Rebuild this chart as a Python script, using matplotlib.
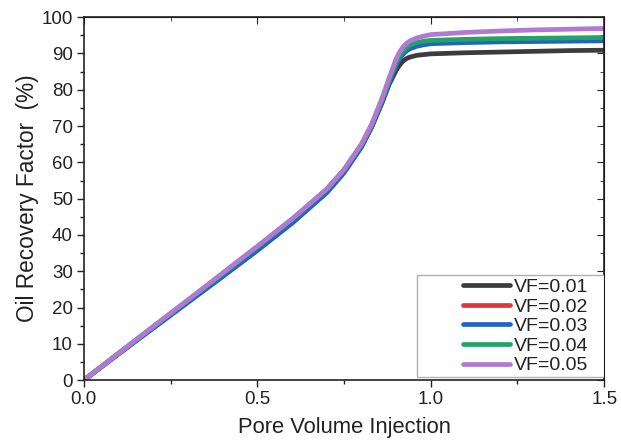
import matplotlib
matplotlib.use("Agg")
import matplotlib.pyplot as plt
from matplotlib.ticker import MultipleLocator, FormatStrFormatter
from matplotlib.patches import Rectangle

plt.rcParams['font.family'] = ['Liberation Sans', 'DejaVu Sans']

pvi = [0.0, 0.1, 0.2, 0.3, 0.4, 0.5, 0.6, 0.7, 0.75, 0.8, 0.83, 0.86, 0.88, 0.9,
       0.91, 0.92, 0.93, 0.94, 0.96, 0.98, 1.0, 1.1, 1.2, 1.3, 1.4, 1.5]

rf_vf001 = [0, 7.3, 14.6, 21.8, 29.0, 36.3, 43.8, 52.0, 57.5, 64.3, 69.8, 76.5, 81.5, 85.3,
            86.8, 87.9, 88.6, 89.0, 89.5, 89.7, 89.9, 90.2, 90.4, 90.6, 90.8, 90.9]
rf_vf002 = [0, 7.3, 14.5, 21.7, 28.9, 36.2, 43.7, 52.0, 57.5, 64.5, 70.0, 77.0, 82.2, 87.0,
            88.8, 90.1, 91.0, 91.6, 92.3, 92.7, 93.0, 93.4, 93.6, 93.7, 93.8, 93.9]
rf_vf003 = [0, 7.2, 14.3, 21.4, 28.5, 35.7, 43.2, 51.6, 57.1, 64.2, 69.8, 76.8, 82.0, 86.8,
            88.5, 89.8, 90.7, 91.3, 92.0, 92.4, 92.7, 93.0, 93.2, 93.3, 93.4, 93.5]
rf_vf004 = [0, 7.4, 14.7, 22.0, 29.3, 36.7, 44.3, 52.6, 58.0, 64.9, 70.4, 77.4, 82.6, 87.5,
            89.3, 90.7, 91.6, 92.3, 93.0, 93.4, 93.6, 93.9, 94.1, 94.2, 94.3, 94.4]
rf_vf005 = [0, 7.4, 14.8, 22.1, 29.5, 36.9, 44.4, 52.6, 58.0, 65.0, 70.6, 77.8, 83.3, 88.5,
            90.4, 91.8, 92.8, 93.5, 94.3, 94.8, 95.2, 95.8, 96.2, 96.5, 96.7, 96.9]

labels = ["VF=0.01", "VF=0.02", "VF=0.03", "VF=0.04", "VF=0.05"]
series = [rf_vf001, rf_vf002, rf_vf003, rf_vf004, rf_vf005]
colors = ["#3c3c3c", "#e0383a", "#2462c0", "#22a466", "#b07ad2"]

fig = plt.figure(figsize=(6.21, 4.41), dpi=100)
ax = fig.add_axes([0.135, 0.138, 0.838, 0.823])

for ys, lab, c in zip(series, labels, colors):
    ax.plot(pvi, ys, color=c, lw=3.4, label=lab, solid_capstyle='round',
            solid_joinstyle='round')

ax.set_xlim(0, 1.5)
ax.set_ylim(0, 100)
ax.xaxis.set_major_locator(MultipleLocator(0.5))
ax.xaxis.set_minor_locator(MultipleLocator(0.25))
ax.yaxis.set_major_locator(MultipleLocator(10))
ax.yaxis.set_minor_locator(MultipleLocator(5))
ax.xaxis.set_major_formatter(FormatStrFormatter('%.1f'))

ax.tick_params(which='both', direction='out', top=False, right=False, labelsize=13.5,
               colors='#222222', pad=3)
ax.tick_params(which='major', length=5, width=1.0)
ax.tick_params(which='minor', length=3, width=1.0)

# mirrored inward ticks on top and right
secx = ax.secondary_xaxis('top')
secx.xaxis.set_major_locator(MultipleLocator(0.5))
secx.xaxis.set_minor_locator(MultipleLocator(0.25))
secx.tick_params(which='both', direction='in', labeltop=False, colors='#222222')
secx.tick_params(which='major', length=5)
secx.tick_params(which='minor', length=3)
secy = ax.secondary_yaxis('right')
secy.yaxis.set_major_locator(MultipleLocator(10))
secy.yaxis.set_minor_locator(MultipleLocator(5))
secy.tick_params(which='both', direction='in', labelright=False, colors='#222222')
secy.tick_params(which='major', length=5)
secy.tick_params(which='minor', length=3)

for s in ax.spines.values():
    s.set_linewidth(1.2)
    s.set_color('#222222')

ax.set_xlabel("Pore Volume Injection", fontsize=15.8, color='#222222', labelpad=6)
ax.set_ylabel("Oil Recovery Factor  (%)", fontsize=16.3, color='#222222', labelpad=2)

# legend frame (wide, Origin-style) and frameless legend inside it
frame = Rectangle((0.640, 0.008), 0.360, 0.281, transform=ax.transAxes,
                  facecolor='white', edgecolor='#b0b0b0', linewidth=1.0, zorder=4)
ax.add_patch(frame)
leg = ax.legend(loc='center left', bbox_to_anchor=(0.729, 0.148), fontsize=14,
                frameon=False, handlelength=2.4, handletextpad=0.2,
                labelspacing=0.1, borderpad=0.0, borderaxespad=0.0)
leg.set_zorder(5)
for t in leg.get_texts():
    t.set_color('#222222')

fig.savefig("out.png", dpi=100)
